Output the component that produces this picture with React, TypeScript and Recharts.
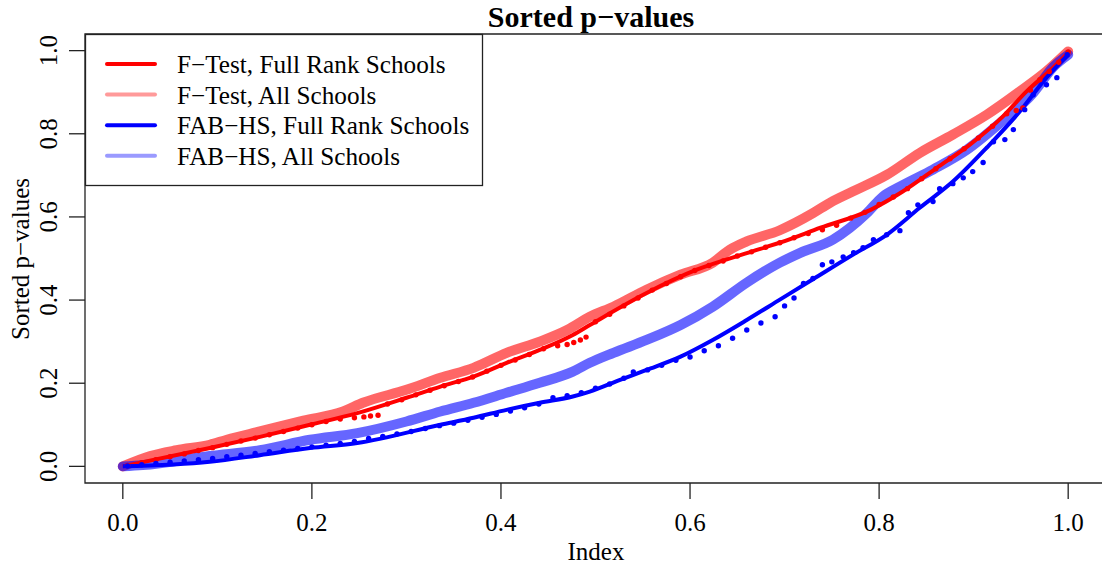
import React from 'react';
import { ComposedChart, Line, Scatter, XAxis, YAxis, ReferenceArea } from 'recharts';

// F-Test, All Schools (wide translucent band)
const fAllX = [0, 0.029, 0.057, 0.092, 0.11, 0.145, 0.191, 0.233, 0.254, 0.3, 0.336, 0.371, 0.406, 0.441, 0.47, 0.494, 0.519, 0.554, 0.59, 0.624, 0.642, 0.66, 0.695, 0.73, 0.748, 0.772, 0.808, 0.843, 0.878, 0.914, 0.949, 0.977, 1.0];
const fAllY = [0, 0.025, 0.039, 0.052, 0.064, 0.084, 0.11, 0.132, 0.153, 0.184, 0.213, 0.237, 0.273, 0.3, 0.328, 0.36, 0.384, 0.425, 0.461, 0.49, 0.521, 0.541, 0.568, 0.609, 0.634, 0.661, 0.701, 0.754, 0.798, 0.846, 0.902, 0.95, 0.998];

// F-Test, Full Rank Schools (curve + points)
const fFullX = [0, 0.092, 0.145, 0.198, 0.248, 0.3, 0.336, 0.371, 0.406, 0.441, 0.476, 0.494, 0.554, 0.607, 0.66, 0.695, 0.738, 0.791, 0.825, 0.861, 0.896, 0.931, 0.956, 0.984, 1.0];
const fFullY = [0, 0.044, 0.071, 0.1, 0.128, 0.165, 0.192, 0.216, 0.249, 0.28, 0.316, 0.34, 0.417, 0.473, 0.513, 0.538, 0.574, 0.617, 0.661, 0.718, 0.774, 0.842, 0.902, 0.959, 0.995];
const fPtsX = [0.005, 0.02, 0.035, 0.05, 0.065, 0.08, 0.095, 0.11, 0.125, 0.14, 0.155, 0.17, 0.185, 0.2, 0.215, 0.23, 0.245, 0.255, 0.262, 0.27, 0.28, 0.295, 0.31, 0.325, 0.34, 0.355, 0.37, 0.385, 0.4, 0.415, 0.43, 0.445, 0.46, 0.47, 0.477, 0.484, 0.49, 0.5, 0.515, 0.53, 0.545, 0.56, 0.575, 0.59, 0.605, 0.62, 0.635, 0.65, 0.665, 0.68, 0.695, 0.71, 0.725, 0.74, 0.755, 0.77, 0.785, 0.8, 0.815, 0.83, 0.845, 0.86, 0.875, 0.89, 0.905, 0.92, 0.935, 0.945, 0.952, 0.96, 0.97, 0.98, 0.99, 1.0];
const fPtsY = [0.002, 0.009, 0.016, 0.023, 0.03, 0.038, 0.045, 0.053, 0.061, 0.068, 0.076, 0.084, 0.092, 0.1, 0.108, 0.114, 0.117, 0.119, 0.121, 0.123, 0.15, 0.16, 0.172, 0.183, 0.194, 0.204, 0.215, 0.229, 0.243, 0.256, 0.269, 0.283, 0.29, 0.293, 0.298, 0.304, 0.311, 0.348, 0.366, 0.386, 0.405, 0.424, 0.44, 0.456, 0.471, 0.483, 0.494, 0.506, 0.516, 0.527, 0.538, 0.55, 0.56, 0.569, 0.58, 0.597, 0.611, 0.63, 0.648, 0.668, 0.692, 0.716, 0.74, 0.764, 0.79, 0.818, 0.848, 0.856, 0.862, 0.905, 0.93, 0.95, 0.972, 0.997];

// FAB-HS, All Schools (wide translucent band)
const bAllX = [0, 0.021, 0.092, 0.145, 0.198, 0.248, 0.3, 0.336, 0.371, 0.406, 0.441, 0.476, 0.494, 0.519, 0.554, 0.59, 0.624, 0.66, 0.695, 0.716, 0.751, 0.787, 0.804, 0.822, 0.857, 0.893, 0.928, 0.963, 0.984, 1.0];
const bAllY = [0, 0.003, 0.025, 0.039, 0.064, 0.08, 0.108, 0.132, 0.153, 0.177, 0.201, 0.228, 0.249, 0.273, 0.304, 0.34, 0.384, 0.442, 0.49, 0.513, 0.545, 0.609, 0.649, 0.673, 0.714, 0.762, 0.826, 0.898, 0.96, 0.99];

// FAB-HS, Full Rank Schools (curve + points)
const bFullX = [0, 0.092, 0.145, 0.198, 0.248, 0.336, 0.371, 0.406, 0.441, 0.476, 0.494, 0.526, 0.554, 0.59, 0.624, 0.66, 0.695, 0.73, 0.773, 0.808, 0.843, 0.878, 0.914, 0.949, 0.977, 1.0];
const bFullY = [0, 0.011, 0.027, 0.044, 0.056, 0.1, 0.117, 0.136, 0.153, 0.168, 0.18, 0.208, 0.232, 0.264, 0.304, 0.352, 0.401, 0.45, 0.51, 0.557, 0.622, 0.685, 0.767, 0.854, 0.935, 0.99];
const bPtsX = [0.005, 0.02, 0.035, 0.05, 0.065, 0.08, 0.095, 0.11, 0.125, 0.14, 0.155, 0.17, 0.185, 0.2, 0.215, 0.23, 0.245, 0.26, 0.275, 0.29, 0.305, 0.32, 0.335, 0.35, 0.365, 0.38, 0.395, 0.41, 0.425, 0.44, 0.455, 0.47, 0.485, 0.5, 0.515, 0.53, 0.54, 0.555, 0.57, 0.585, 0.6, 0.615, 0.63, 0.645, 0.66, 0.675, 0.69, 0.7, 0.71, 0.72, 0.73, 0.74, 0.75, 0.762, 0.773, 0.783, 0.794, 0.808, 0.822, 0.831, 0.841, 0.857, 0.864, 0.878, 0.889, 0.899, 0.91, 0.921, 0.933, 0.942, 0.954, 0.963, 0.977, 0.988, 0.999];
const bPtsY = [0.001, 0.004, 0.007, 0.01, 0.013, 0.016, 0.019, 0.023, 0.027, 0.031, 0.035, 0.039, 0.043, 0.047, 0.051, 0.055, 0.06, 0.067, 0.072, 0.078, 0.084, 0.091, 0.098, 0.104, 0.111, 0.118, 0.125, 0.133, 0.141, 0.15, 0.165, 0.17, 0.177, 0.188, 0.198, 0.212, 0.227, 0.232, 0.243, 0.255, 0.263, 0.278, 0.29, 0.308, 0.328, 0.345, 0.36, 0.386, 0.405, 0.44, 0.452, 0.485, 0.492, 0.504, 0.514, 0.526, 0.545, 0.557, 0.567, 0.61, 0.629, 0.637, 0.668, 0.68, 0.694, 0.709, 0.731, 0.781, 0.786, 0.81, 0.858, 0.894, 0.918, 0.935, 0.99];

const xTicks = [0, 0.2, 0.4, 0.6, 0.8, 1.0];
const yTicks = [0, 0.2, 0.4, 0.6, 0.8, 1.0];

const legendItems = [
  { label: 'F\u2212Test, Full Rank Schools', color: '#ff0000' },
  { label: 'F\u2212Test, All Schools', color: '#ff9a9a' },
  { label: 'FAB\u2212HS, Full Rank Schools', color: '#0000ff' },
  { label: 'FAB\u2212HS, All Schools', color: '#9a9aff' },
];

const zip = (xs: number[], ys: number[]) => xs.map((x, i) => ({ x, y: ys[i] }));

const FONT = '"Liberation Serif", "Times New Roman", serif';

function XTick({ x, y, payload }: any) {
  return (
    <text x={x} y={y + 30} textAnchor="middle" fontSize={25} fontFamily={FONT} fill="#000">
      {Number(payload.value).toFixed(1)}
    </text>
  );
}

function YTick({ x, y, payload }: any) {
  const bx = x - 10;
  return (
    <text x={bx} y={y} transform={`rotate(-90 ${bx} ${y})`} textAnchor="middle" fontSize={25} fontFamily={FONT} fill="#000">
      {Number(payload.value).toFixed(1)}
    </text>
  );
}

const dot = (color: string) => (p: any) => <circle cx={p.cx} cy={p.cy} r={2.7} fill={color} />;

export default function App() {
  return (
    <div style={{ position: 'fixed', left: 0, top: 0, width: 1102, height: 565, overflow: 'hidden', background: '#fff' }}>
      <ComposedChart width={1110} height={565} margin={{ top: 34, right: 4, bottom: 0, left: 0 }}>
        <XAxis
          type="number"
          dataKey="x"
          domain={[-0.04, 1.04]}
          ticks={xTicks}
          height={82}
          axisLine={false}
          tickSize={16}
          tickLine={{ stroke: '#222', strokeWidth: 1.3 }}
          tick={<XTick />}
          allowDataOverflow
        />
        <YAxis
          type="number"
          dataKey="y"
          domain={[-0.04, 1.04]}
          ticks={yTicks}
          width={85}
          axisLine={false}
          tickSize={16}
          tickLine={{ stroke: '#222', strokeWidth: 1.3 }}
          tick={<YTick />}
          allowDataOverflow
        />
        <ReferenceArea x1={-0.04} x2={1.04} y1={-0.04} y2={1.04} fill="none" stroke="#222" strokeWidth={1.3} ifOverflow="visible" />
        <Line data={zip(fAllX, fAllY)} dataKey="y" type="monotone" stroke="#ff0000" strokeOpacity={0.6} strokeWidth={10} strokeLinecap="round" dot={false} activeDot={false} isAnimationActive={false} />
        <Line data={zip(bAllX, bAllY)} dataKey="y" type="monotone" stroke="#0000ff" strokeOpacity={0.6} strokeWidth={10} strokeLinecap="round" dot={false} activeDot={false} isAnimationActive={false} />
        <Line data={zip(fFullX, fFullY)} dataKey="y" type="monotone" stroke="#ff0000" strokeWidth={4} dot={false} activeDot={false} isAnimationActive={false} />
        <Scatter data={zip(fPtsX, fPtsY)} dataKey="y" fill="#ff0000" shape={dot('#ff0000')} isAnimationActive={false} />
        <Line data={zip(bFullX, bFullY)} dataKey="y" type="monotone" stroke="#0000ff" strokeWidth={4} dot={false} activeDot={false} isAnimationActive={false} />
        <Scatter data={zip(bPtsX, bPtsY)} dataKey="y" fill="#0000ff" shape={dot('#0000ff')} isAnimationActive={false} />
      </ComposedChart>
      <svg width={1102} height={565} style={{ position: 'absolute', left: 0, top: 0, pointerEvents: 'none' }}>
        <text x={591} y={27} textAnchor="middle" fontSize={30} fontWeight="bold" fontFamily={FONT}>
          Sorted p{'\u2212'}values
        </text>
        <text x={596} y={560} textAnchor="middle" fontSize={25} fontFamily={FONT}>
          Index
        </text>
        <text x={29} y={259} transform="rotate(-90 29 259)" textAnchor="middle" fontSize={25} fontFamily={FONT}>
          Sorted p{'\u2212'}values
        </text>
        <rect x={85.5} y={34.5} width={397} height={151} fill="#fff" stroke="#222" strokeWidth={1.3} />
        {legendItems.map((it, i) => {
          const ly = 64 + i * 30.6;
          return (
            <g key={it.label}>
              <line x1={107} x2={155} y1={ly} y2={ly} stroke={it.color} strokeWidth={4} strokeLinecap="round" />
              <text x={177} y={ly + 9} fontSize={25.2} fontFamily={FONT}>
                {it.label}
              </text>
            </g>
          );
        })}
      </svg>
    </div>
  );
}
